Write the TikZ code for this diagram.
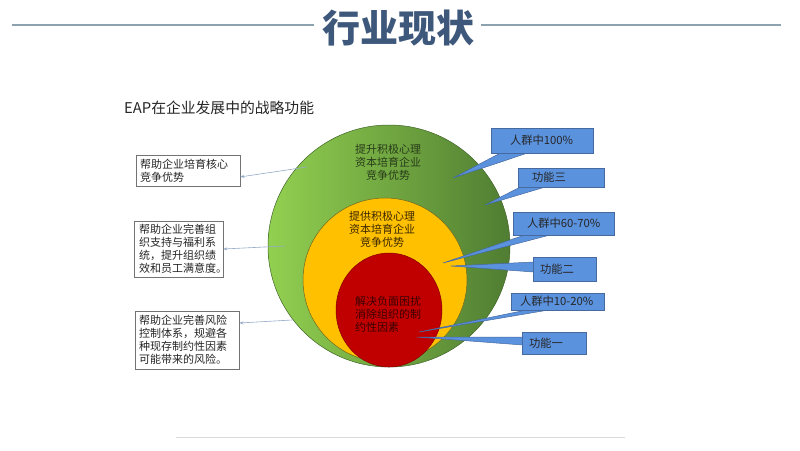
\documentclass[tikz,border=0pt]{standalone}
\usepackage{fontspec}
\setmainfont{Noto Sans CJK SC}
\usetikzlibrary{calc,arrows.meta,shapes.geometric}
\pgfdeclarelayer{back}
\pgfdeclarelayer{mid}
\pgfsetlayers{back,mid,main}
\definecolor{titleblue}{RGB}{62,88,124}
\definecolor{rulegray}{RGB}{140,162,175}
\definecolor{glight}{RGB}{146,208,80}
\definecolor{gdark}{RGB}{80,125,50}
\definecolor{ylw}{RGB}{255,192,0}
\definecolor{rd}{RGB}{192,0,0}
\definecolor{cfill}{RGB}{91,146,222}
\definecolor{cborder}{RGB}{70,105,160}
\definecolor{arr}{RGB}{150,170,200}
\definecolor{gtext}{RGB}{40,60,25}
\definecolor{ytext}{RGB}{60,40,0}
\definecolor{rtext}{RGB}{60,0,0}
\begin{document}
\begin{tikzpicture}[x=1pt,y=-1pt,
  leftbox/.style={draw=black!55, fill=white, line width=0.6pt, inner ysep=0pt, align=left,
    font=\fontsize{11}{13}\selectfont, text=black!85},
  callout/.style={draw=cborder, fill=cfill, line width=0.6pt, inner ysep=0pt, align=left,
    font=\fontsize{11.3}{13}\selectfont, text=black!85},
  wedgeshape/.style={fill=cfill, draw=cborder, line width=0.5pt},
  conn/.style={draw=arr, line width=0.6pt, -{Stealth[length=4pt,width=3pt]}},
  circtext/.style={align=center, font=\fontsize{11}{13}\selectfont, inner sep=0pt},
  rulestyle/.style={draw=rulegray, line width=1.1pt}]
\useasboundingbox (0,0) rectangle (800,450);
\begin{pgfonlayer}{back}
\fill[white] (0,0) rectangle (800,450);
\end{pgfonlayer}

% title
\node[font=\bfseries\fontsize{38}{38}\selectfont, text=titleblue, inner sep=0pt] (title) at (398.5,28) {行业现状};
\coordinate (l1) at (12,25);
\coordinate (r1) at (781,25);
\draw[rulestyle] (l1) -- ([xshift=-8pt]l1 -| title.west);
\draw[rulestyle] (r1) -- ([xshift=6pt]r1 -| title.east);

% heading
\node[anchor=west, font=\fontsize{14.8}{15}\selectfont, text=black!85, inner sep=0pt] (head) at (124,108) {EAP在企业发展中的战略功能};

% circles
\begin{pgfonlayer}{back}
\node[circle, minimum size=242pt, inner sep=0pt, left color=glight, right color=gdark, draw=gdark!80!black, line width=0.5pt] (green) at (389,246) {};
\node[circle, minimum size=164pt, inner sep=0pt, fill=ylw, draw=olive!70!black, line width=0.5pt] (yellow) at (385,280) {};
\node[ellipse, minimum width=106pt, minimum height=114pt, inner sep=0pt, fill=rd, draw=rd!70!black, line width=0.5pt] (red) at (389,310) {};
\end{pgfonlayer}

\node[circtext, text=gtext] (gt) at (388,162) {提升积极心理\\资本培育企业\\竞争优势};
\node[circtext, text=ytext] (yt) at (382,229) {提供积极心理\\资本培育企业\\竞争优势};
\node[circtext, align=left, anchor=west, text=rtext] (rt) at (355,314) {解决负面困扰\\消除组织的制\\约性因素};

% left boxes
\node[leftbox, inner xsep=4pt, text width=96pt, minimum height=31pt] (box1) at (188,170.5) {帮助企业培育核心\\竞争优势};
\node[leftbox, inner xsep=5pt, text width=79pt, minimum height=56pt] (box2) at (178.5,249) {帮助企业完善组\\织支持与福利系\\统，提升组织绩\\效和员工满意度。};
\node[leftbox, inner xsep=4pt, text width=96pt, minimum height=58pt] (box3) at (187,340) {帮助企业完善风险\\控制体系，规避各\\种现存制约性因素\\可能带来的风险。};

\coordinate (a1) at (307,167);
\coordinate (a2) at (285,246);
\coordinate (a3) at (292,320);
\draw[conn] (a1) -- (box1.-7);
\draw[conn] (a2) -- (box2.east);
\draw[conn] (a3) -- (box3.18);

% callouts
\node[callout, inner xsep=19pt, text width=64pt, minimum height=25pt] (c1) at (542,140.5) {人群中100\%};
\node[callout, inner xsep=14pt, text width=58pt, minimum height=19pt] (c2) at (561,177.5) {功能三};
\node[callout, inner xsep=14pt, text width=73pt, minimum height=23pt] (c3) at (563.5,223.5) {\mbox{人群中60-70\%}};
\node[callout, inner xsep=7pt, text width=49pt, minimum height=24pt] (c4) at (564.5,269) {功能二};
\node[callout, inner xsep=9pt, text width=75pt, minimum height=17pt] (c5) at (557.5,301.5) {\mbox{人群中10-20\%}};
\node[callout, inner xsep=7pt, text width=50pt, minimum height=22pt] (c6) at (554,343) {功能一};

\coordinate (t1) at (453,178);
\coordinate (t2) at (485,205);
\coordinate (t3) at (443,263);
\coordinate (t4) at (451,266);
\coordinate (t5) at (419,332);
\coordinate (t6) at (417,337);

\begin{pgfonlayer}{mid}
\path[wedgeshape] (t1) -- ($(c1.south west)+(11,-1)$) -- ($(c1.south west)+(39,-1)$) -- cycle;
\path[wedgeshape] (t2) -- ($(c2.south west)+(4,-1)$) -- ($(c2.south west)+(30,-1)$) -- cycle;
\path[wedgeshape] (t3) -- ($(c3.south west)+(14,-1)$) -- ($(c3.south west)+(40,-1)$) -- cycle;
\path[wedgeshape] (t4) -- ($(c4.west)+(1,-7)$) -- ($(c4.west)+(1,3)$) -- cycle;
\path[wedgeshape] (t5) -- ($(c5.south west)+(19,-1)$) -- ($(c5.south west)+(42,-1)$) -- cycle;
\path[wedgeshape] (t6) -- ($(c6.west)+(1,-6)$) -- ($(c6.west)+(1,2)$) -- cycle;
\end{pgfonlayer}

% bottom rule
\coordinate (b1) at (176,437);
\coordinate (b2) at (625,437);
\draw[draw=black!15, line width=0.8pt] (b1) -- (b2);
\end{tikzpicture}
\end{document}
